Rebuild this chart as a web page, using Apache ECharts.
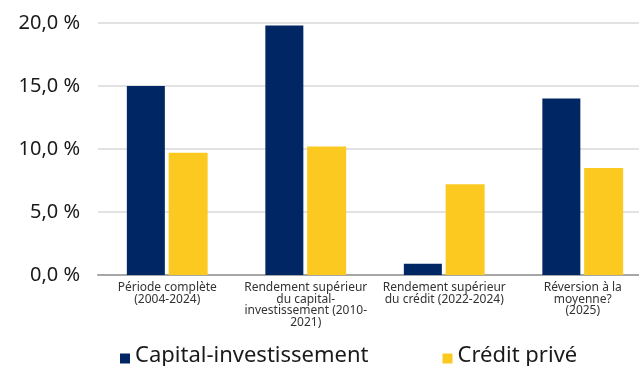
<!DOCTYPE html>
<html>
<head>
<meta charset="utf-8">
<script src="https://cdn.jsdelivr.net/npm/echarts@6/dist/echarts.min.js"></script>
<style>
  html, body { margin: 0; padding: 0; background: #fff; overflow: hidden; }
  #chart { width: 652px; height: 366px; }
</style>
</head>
<body>
<div id="chart"></div>
<script>
// Périodes comparées (libellés de l'axe horizontal)
const categories = [
  'Période complète\n(2004-2024)',
  'Rendement supérieur\ndu capital-\ninvestissement (2010-\n2021)',
  'Rendement supérieur\ndu crédit (2022-2024)',
  'Réversion à la\nmoyenne?\n(2025)'
];
const seriesNames = ['Capital-investissement', 'Crédit privé'];
// Rendements annualisés, en %
const privateEquity = [15.0, 19.8, 0.9, 14.0];
const privateCredit = [9.7, 10.2, 7.2, 8.5];
const yTicks = [0, 5, 10, 15, 20];

const FONT = '"Noto Sans", "Open Sans", sans-serif';
const fmtPct = v => v.toFixed(1).replace('.', ',') + ' %';

// Carré de légende posé sur la ligne de base du texte
const legendIcon = 'path://M0,0 L0,0 M0,5 L10,5 L10,15 L0,15 Z';

const chart = echarts.init(document.getElementById('chart'));
chart.setOption({
  animation: false,
  textStyle: { fontFamily: FONT },
  grid: { left: 98, top: 23, right: 0, height: 252, containLabel: false },
  legend: {
    data: seriesNames,
    left: 115,
    top: 340,
    icon: legendIcon,
    itemWidth: 10,
    itemHeight: 15,
    itemGap: 74,
    textStyle: { fontSize: 22, color: '#1a1a1a', fontFamily: FONT }
  },
  xAxis: {
    type: 'category',
    data: categories,
    axisTick: { show: false },
    axisLine: { lineStyle: { color: '#a6a6a6', width: 2 } },
    axisLabel: {
      interval: 0,
      margin: 7,
      fontSize: 12,
      lineHeight: 11.5,
      color: '#333',
      fontFamily: FONT
    }
  },
  yAxis: {
    type: 'value',
    min: yTicks[0],
    max: yTicks[yTicks.length - 1],
    interval: 5,
    axisLine: { show: false },
    axisTick: { show: false },
    splitLine: { lineStyle: { color: '#d9d9d9', width: 1.5 } },
    axisLabel: {
      formatter: fmtPct,
      fontSize: 20,
      color: '#1a1a1a',
      margin: 18,
      fontFamily: FONT
    }
  },
  series: [
    {
      name: seriesNames[0],
      type: 'bar',
      data: privateEquity,
      barWidth: 38,
      barGap: '10%',
      itemStyle: { color: '#002663' }
    },
    {
      name: seriesNames[1],
      type: 'bar',
      data: privateCredit,
      barWidth: 39,
      itemStyle: { color: '#FBC920' }
    }
  ]
});
</script>
</body>
</html>
